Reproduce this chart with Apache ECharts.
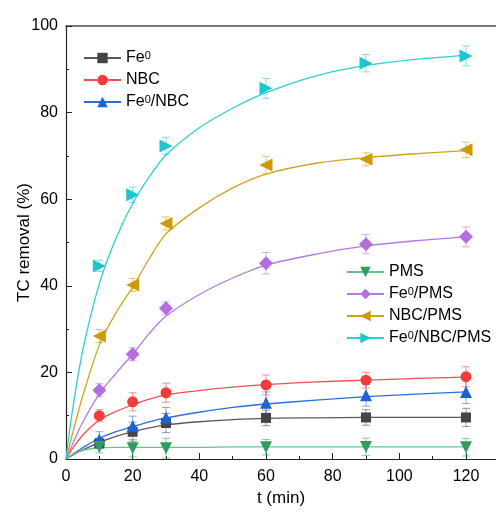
<!DOCTYPE html>
<html>
<head>
<meta charset="utf-8">
<script src="https://cdn.jsdelivr.net/npm/echarts@6/dist/echarts.min.js"></script>
<style>
  html, body { margin: 0; padding: 0; background: #fff; }
  #main { width: 496px; height: 515px; }
</style>
</head>
<body>
<div id="main"></div>
<script>
// measured points
var times = [10, 20, 30, 60, 90, 120];

var fe0 = [3.6, 6.3, 8.3, 9.5, 9.6, 9.6];
var nbc = [10.0, 13.2, 15.3, 17.1, 18.2, 19.0];
var fe0Nbc = [4.5, 7.6, 9.6, 13.0, 14.7, 15.5];
var pms = [2.8, 2.5, 2.5, 2.7, 2.8, 2.7];
var fe0Pms = [15.9, 24.2, 34.8, 45.2, 49.6, 51.3];
var nbcPms = [28.4, 40.2, 54.4, 67.9, 69.2, 71.4];
var fe0NbcPms = [44.6, 61.0, 72.3, 85.6, 91.4, 93.1];

// error (+/-)
var fe0Err = [1.2, 2.2, 2.2, 1.8, 1.8, 2.1];
var nbcErr = [1.4, 2.1, 2.2, 2.3, 1.8, 2.3];
var fe0NbcErr = [1.8, 2.3, 2.3, 2.5, 2.5, 2.7];
var pmsErr = [1.4, 2.0, 2.3, 1.8, 2.0, 2.0];
var fe0PmsErr = [1.5, 1.5, 1.5, 2.5, 2.2, 2.3];
var nbcPmsErr = [1.5, 1.5, 1.5, 2.0, 1.5, 1.8];
var fe0NbcPmsErr = [1.3, 1.8, 2.0, 2.3, 2.0, 2.3];

// fitted kinetic curves
var fitTimes = [0, 2, 5, 10, 15, 20, 25, 30, 40, 50, 60, 75, 90, 105, 120];
var fe0Fit = [0, 0.9, 2.1, 3.8, 5.2, 6.3, 7.2, 7.9, 8.6, 9.1, 9.4, 9.5, 9.6, 9.6, 9.6];
var nbcFit = [0, 2.5, 5.5, 9.0, 11.0, 12.5, 13.8, 14.8, 15.8, 16.6, 17.2, 17.8, 18.2, 18.6, 18.9];
var fe0NbcFit = [0, 1.1, 2.6, 4.8, 6.3, 7.5, 8.6, 9.5, 10.8, 11.9, 12.7, 13.6, 14.4, 15.0, 15.5];
var pmsFit = [0, 1.0, 2.0, 2.6, 2.7, 2.7, 2.7, 2.7, 2.7, 2.8, 2.8, 2.8, 2.8, 2.8, 2.8];
var fe0PmsFit = [0, 3.5, 8.5, 15.0, 19.8, 24.2, 29.0, 33.0, 38.0, 41.8, 44.8, 47.3, 49.2, 50.4, 51.3];
var nbcPmsFit = [0, 6.0, 14.5, 26.3, 33.8, 39.7, 46.3, 52.0, 58.0, 62.6, 65.8, 68.3, 69.6, 70.5, 71.2];
var fe0NbcPmsFit = [0, 11.5, 25.0, 40.5, 51.0, 59.0, 65.2, 70.2, 76.5, 81.0, 84.6, 88.5, 90.9, 92.3, 93.2];

var xTicks = [0, 20, 40, 60, 80, 100, 120];
var yTicks = [0, 20, 40, 60, 80, 100];

var FONT = 'Liberation Sans, Arial, sans-serif';

var systems = [
  {name: 'Fe0', label: 'Fe{s|0}', vals: fe0, err: fe0Err, fit: fe0Fit, mark: '#454545', line: '#5a5a5a', sym: 'rect', size: 10, rot: 0},
  {name: 'NBC', label: 'NBC', vals: nbc, err: nbcErr, fit: nbcFit, mark: '#f23c3c', line: '#f25050', sym: 'circle', size: 11, rot: 0},
  {name: 'Fe0/NBC', label: 'Fe{s|0}/NBC', vals: fe0Nbc, err: fe0NbcErr, fit: fe0NbcFit, mark: '#1f63d2', line: '#2b6fdc', sym: 'triangle', size: 12, rot: 0},
  {name: 'PMS', label: 'PMS', vals: pms, err: pmsErr, fit: pmsFit, mark: '#2f9e5c', line: '#69c28d', sym: 'triangle', size: 12, rot: 180},
  {name: 'Fe0/PMS', label: 'Fe{s|0}/PMS', vals: fe0Pms, err: fe0PmsErr, fit: fe0PmsFit, mark: '#b36ee0', line: '#b47ae4', sym: 'diamond', size: 14, rot: 0},
  {name: 'NBC/PMS', label: 'NBC/PMS', vals: nbcPms, err: nbcPmsErr, fit: nbcPmsFit, mark: '#cc9a06', line: '#d4a11a', sym: 'triangle', size: 13, rot: 90},
  {name: 'Fe0/NBC/PMS', label: 'Fe{s|0}/NBC/PMS', vals: fe0NbcPms, err: fe0NbcPmsErr, fit: fe0NbcPmsFit, mark: '#1cc6cc', line: '#2ccfd3', sym: 'triangle', size: 13, rot: -90}
];
var labelMap = {};
systems.forEach(function (s) { labelMap[s.name] = s.label; });

function errorSeries(s) {
  var d = times.map(function (t, i) { return [t, s.vals[i] - s.err[i], s.vals[i] + s.err[i]]; });
  return {
    type: 'custom',
    name: s.name + '-err',
    data: d,
    z: 2,
    silent: true,
    renderItem: function (params, api) {
      var lo = api.coord([api.value(0), api.value(1)]);
      var hi = api.coord([api.value(0), api.value(2)]);
      var w = 4;
      var st = {stroke: s.mark, lineWidth: 1, opacity: 0.55};
      return {
        type: 'group',
        children: [
          {type: 'line', shape: {x1: lo[0], y1: lo[1], x2: hi[0], y2: hi[1]}, style: st},
          {type: 'line', shape: {x1: lo[0] - w, y1: lo[1], x2: lo[0] + w, y2: lo[1]}, style: st},
          {type: 'line', shape: {x1: hi[0] - w, y1: hi[1], x2: hi[0] + w, y2: hi[1]}, style: st}
        ]
      };
    }
  };
}

// fitted curve; carries the legend entry (line + marker icon)
function fitSeries(s) {
  return {
    type: 'line',
    name: s.name,
    data: fitTimes.map(function (t, i) { return [t, s.fit[i]]; }),
    smooth: 0.3,
    showSymbol: false,
    symbol: s.sym,
    symbolRotate: s.rot,
    z: 3,
    lineStyle: {color: s.line, width: 1.3},
    itemStyle: {color: s.mark},
    emphasis: {disabled: true}
  };
}

function pointSeries(s) {
  return {
    type: 'scatter',
    name: s.name + '-pts',
    data: times.map(function (t, i) { return [t, s.vals[i]]; }),
    symbol: s.sym,
    symbolSize: s.size,
    symbolRotate: s.rot,
    z: 4,
    itemStyle: {color: s.mark, opacity: 1},
    emphasis: {disabled: true}
  };
}

var series = [];
systems.forEach(function (s) { series.push(errorSeries(s)); });
systems.forEach(function (s) { series.push(fitSeries(s)); });
systems.forEach(function (s) { series.push(pointSeries(s)); });

var legendText = {
  fontSize: 16, fontFamily: FONT, color: '#000', lineHeight: 16,
  rich: {s: {fontSize: 11, lineHeight: 7, verticalAlign: 'top', fontFamily: FONT}}
};

var chart = echarts.init(document.getElementById('main'), null, {renderer: 'canvas'});
chart.setOption({
  animation: false,
  backgroundColor: '#fff',
  grid: {left: 66, top: 26, width: 430, height: 433},
  legend: [
    {
      data: ['Fe0', 'NBC', 'Fe0/NBC'],
      orient: 'vertical', left: 78, top: 45,
      itemWidth: 37, itemHeight: 13, itemGap: 6,
      formatter: function (n) { return labelMap[n]; },
      textStyle: legendText
    },
    {
      data: ['PMS', 'Fe0/PMS', 'NBC/PMS', 'Fe0/NBC/PMS'],
      orient: 'vertical', left: 341, top: 259,
      itemWidth: 37, itemHeight: 13, itemGap: 6,
      formatter: function (n) { return labelMap[n]; },
      textStyle: legendText
    }
  ],
  xAxis: [
    {
      type: 'value', min: 0, max: 129, interval: 20,
      name: 't (min)', nameLocation: 'middle', nameGap: 30,
      nameTextStyle: {fontSize: 17, fontFamily: FONT, color: '#000'},
      axisLine: {show: true, lineStyle: {color: '#222', width: 1.2}},
      axisTick: {inside: true, length: 6, lineStyle: {color: '#222'}},
      minorTick: {show: true, splitNumber: 2, length: 3, lineStyle: {color: '#222'}},
      axisLabel: {fontSize: 16, fontFamily: FONT, color: '#000', margin: 10, showMaxLabel: false,
        formatter: function (v) { return xTicks.indexOf(v) >= 0 ? String(v) : ''; }},
      splitLine: {show: false}
    },
    {
      type: 'value', min: 0, max: 129, position: 'top',
      axisLine: {show: true, lineStyle: {color: '#7a7a7a', width: 1.8}},
      axisTick: {show: false}, axisLabel: {show: false}, splitLine: {show: false}
    }
  ],
  yAxis: {
    type: 'value', min: 0, max: 100, interval: 20,
    name: 'TC removal (%)', nameLocation: 'middle', nameGap: 33, nameMoveOverlap: false,
    nameTextStyle: {fontSize: 17, fontFamily: FONT, color: '#000'},
    axisLine: {show: true, lineStyle: {color: '#222', width: 1.2}},
    axisTick: {inside: true, length: 6, lineStyle: {color: '#222'}},
    minorTick: {show: true, splitNumber: 2, length: 3, lineStyle: {color: '#222'}},
    axisLabel: {fontSize: 16, fontFamily: FONT, color: '#000', margin: 8,
      formatter: function (v) { return yTicks.indexOf(v) >= 0 ? String(v) : ''; }},
    splitLine: {show: false}
  },
  series: series
});
</script>
</body>
</html>
